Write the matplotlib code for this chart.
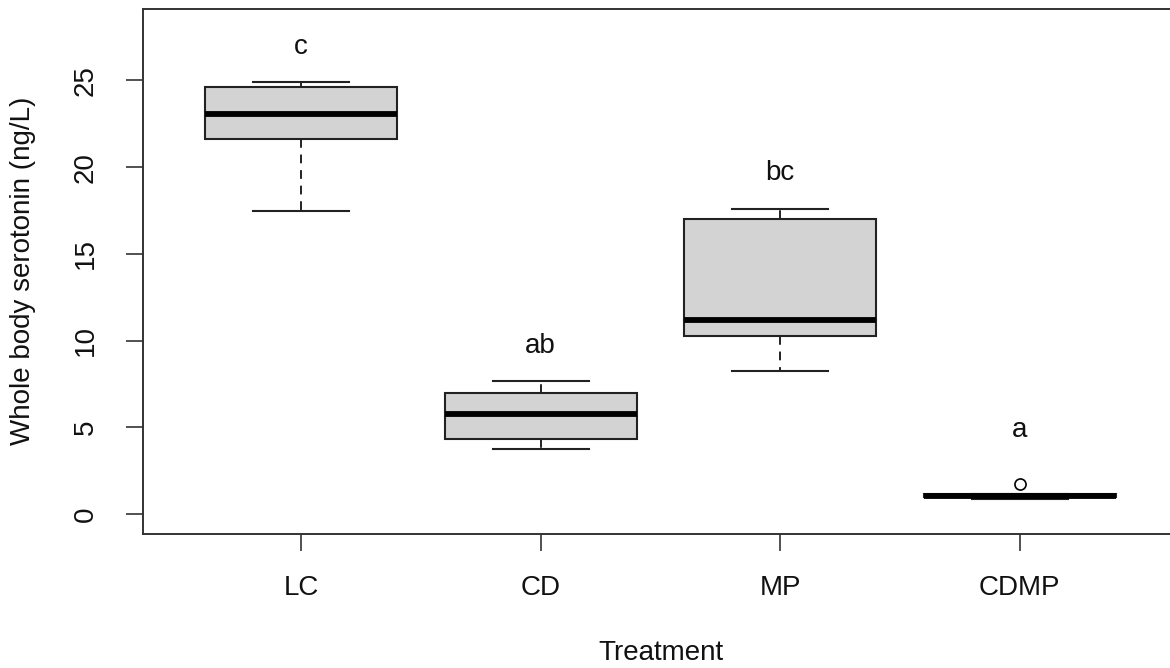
import matplotlib
matplotlib.use("Agg")
import matplotlib.pyplot as plt

plt.rcParams['font.family'] = ['Liberation Sans', 'DejaVu Sans']

# five-number summaries per treatment (ng/L)
treatments = ['LC', 'CD', 'MP', 'CDMP']
whisker_low = [17.49, 3.78, 8.24, 0.86]
q1 = [21.62, 4.32, 10.28, 0.98]
medians = [23.04, 5.78, 11.20, 1.07]
q3 = [24.60, 6.97, 16.99, 1.17]
whisker_high = [24.91, 7.70, 17.58, 1.17]
outliers = [[], [], [], [1.72]]

# Tukey group letters and their heights
letters = ['c', 'ab', 'bc', 'a']
letter_y = [26.5, 9.3, 19.25, 4.45]


def main():
    fig = plt.figure(figsize=(11.7, 6.68), dpi=100)
    W, H = 1170, 668
    ax = fig.add_axes([143 / W, 1 - 533.5 / H, (1178 - 143) / W, (533.5 - 9) / H])

    stats = []
    for i in range(len(treatments)):
        stats.append(dict(whislo=whisker_low[i], q1=q1[i], med=medians[i],
                          q3=q3[i], whishi=whisker_high[i], fliers=outliers[i]))

    edge = '#222222'
    ax.bxp(stats, positions=range(1, len(treatments) + 1), widths=0.8,
           patch_artist=True, showfliers=True,
           boxprops=dict(facecolor='#d3d3d3', edgecolor=edge, linewidth=1.5),
           medianprops=dict(color='black', linewidth=4.2, solid_capstyle='butt'),
           whiskerprops=dict(color=edge, linewidth=1.4, linestyle=(0, (4.5, 3.5))),
           capprops=dict(color=edge, linewidth=1.5),
           capwidths=0.4,
           flierprops=dict(marker='o', markerfacecolor='white', markeredgecolor='black',
                           markersize=8, markeredgewidth=1.2))

    for i, (lab, y) in enumerate(zip(letters, letter_y)):
        ax.text(i + 1, y, lab, ha='center', va='baseline', fontsize=20, color='#111111')

    ax.set_xlim(0.34, 4.66)
    ax.set_ylim(-1.12, 29.12)
    ax.set_xticks(range(1, len(treatments) + 1))
    ax.set_xticklabels(treatments)
    ax.set_yticks([0, 5, 10, 15, 20, 25])
    ax.set_yticklabels(['0', '5', '10', '15', '20', '25'], rotation=90, va='center')
    ax.tick_params(axis='both', length=12, width=1.2, colors='#333333',
                   labelsize=20, labelcolor='#111111')
    ax.tick_params(axis='x', pad=18)
    ax.tick_params(axis='y', pad=20)
    for s in ax.spines.values():
        s.set_linewidth(1.4)
        s.set_color('#333333')

    ax.set_xlabel('Treatment', fontsize=20, labelpad=28, color='#111111')
    ax.set_ylabel('Whole body serotonin (ng/L)', fontsize=20, labelpad=26, color='#111111')

    fig.savefig('out.png', dpi=100)
    plt.close(fig)


if __name__ == '__main__':
    main()
